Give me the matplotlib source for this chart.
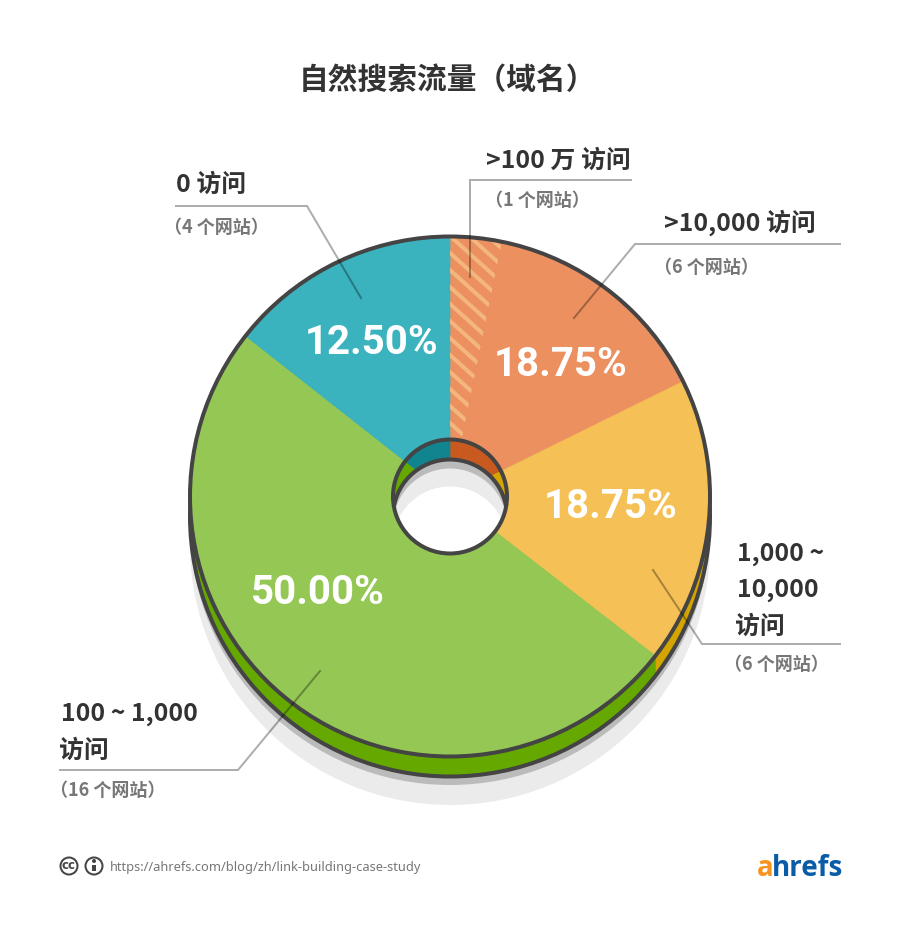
import matplotlib
matplotlib.use('Agg')
from matplotlib import pyplot as plt
from matplotlib.patches import Circle

plt.rcParams['font.family'] = ['Noto Sans CJK SC', 'DejaVu Sans']

W, H = 900, 936
PX = 0.72  # one pixel in points at dpi 100

# slice sizes, clockwise from 12 o'clock
slice_names = ['>100 万', '>10,000', '1,000 ~ 10,000', '100 ~ 1,000', '0']
slice_shares = [3.2, 14.5, 17.8, 50.1, 14.4]
top_colors = ['#ec9060', '#ec9060', '#f5c156', '#95c754', '#3ab3be']
side_colors = ['#c95a1f', '#c95a1f', '#d4a500', '#64a800', '#10848f']

pct_labels = ['12.50%', '18.75%', '18.75%', '50.00%']
pct_x = [372, 561, 611, 318]
pct_y = [342.5, 365.5, 506.5, 593.5]

title = '自然搜索流量（域名）'
heads = ['0 访问', '>100 万 访问', '>10,000 访问', '1,000 ~', '10,000', '访问', '100 ~ 1,000', '访问']
head_x = [176, 486, 664, 737, 737, 735, 61, 59]
head_y = [184.5, 160.5, 223, 554.5, 590.5, 626.5, 714.5, 750.5]
subs = ['（4 个网站）', '（1 个网站）', '（6 个网站）', '（6 个网站）', '（16 个网站）']
sub_x = [164, 485, 654, 724, 50]
sub_y = [227.5, 200.5, 267.5, 664.5, 790.5]

leaders = [
    ([176, 307, 361], [206, 206, 298]),
    ([631, 470, 470], [180, 180, 277]),
    ([840, 635, 574], [244, 244, 318]),
    ([840, 702, 653], [644, 644, 570]),
    ([60, 238, 320], [770, 770, 671]),
]

CX, CY, R = 450, 496.5, 260
DEPTH = 20
HOLE = 57
STROKE = '#444444'


def Y(py):
    return H - py


def draw_pie(ax, cy, colors, z):
    wedges, _ = ax.pie(
        slice_shares, colors=colors, startangle=90, counterclock=False,
        center=(CX, Y(cy)), radius=R,
        wedgeprops={'linewidth': 0.5, 'zorder': z},
    )
    for w in wedges:
        w.set_edgecolor(w.get_facecolor())
    return wedges


def disc(ax, cy, r, z, fc='none', ec='none', lw=0, clip=None):
    c = Circle((CX, Y(cy)), r, fc=fc, ec=ec, lw=lw * PX, zorder=z)
    ax.add_patch(c)
    if clip is not None:
        c.set_clip_path(clip)
    return c


def draw_hatch(ax, wedge):
    # pale diagonal stripes on the one-site wedge
    for start in range(150, 520, 17):
        line, = ax.plot([430, 530], [Y(start), Y(start + 90)], color='#f4b67f',
                        lw=4 * PX, solid_capstyle='butt', zorder=11)
        line.set_clip_path(wedge)


def draw_hole(ax):
    hole = disc(ax, CY, HOLE, 20, fc='white')
    inner_pie = draw_pie(ax, CY, side_colors, 21)
    for w in inner_pie:
        # pie turns clipping off on its wedges
        w.set_clip_on(True)
        w.set_clip_path(hole)
    disc(ax, CY + DEPTH, HOLE, 22, fc='#bbbbbb', clip=hole)
    disc(ax, CY + DEPTH + 9, HOLE, 23, fc='#ebebeb', clip=hole)
    disc(ax, CY + DEPTH + 27, HOLE, 24, fc='white', clip=hole)
    disc(ax, CY + DEPTH, HOLE, 25, ec=STROKE, lw=4, clip=hole)
    disc(ax, CY, HOLE, 26, ec=STROKE, lw=4)


def draw_footer(ax):
    for x in [69, 94]:
        ax.add_patch(Circle((x, Y(866)), 8.5, fc='white', ec=STROKE, lw=2 * PX, zorder=5))
    ax.text(69, Y(865.5), 'cc', fontsize=8.5, fontweight='bold', color=STROKE,
            ha='center', va='center', family=['DejaVu Sans'], zorder=6)
    ax.add_patch(Circle((94, Y(861)), 2, fc=STROKE, ec='none', zorder=6))
    ax.plot([94, 94], [Y(864.5), Y(871)], color=STROKE, lw=4 * PX,
            solid_capstyle='butt', zorder=6)
    ax.text(110, Y(867), 'https://ahrefs.com/blog/zh/link-building-case-study',
            fontsize=9.25, color='#777777', va='center', family=['Noto Sans'])
    ax.text(757, Y(869), 'a', fontsize=20, fontweight='bold', color='#f7931e',
            va='center', family=['Open Sans'])
    ax.text(772, Y(869), 'hrefs', fontsize=20, fontweight='bold', color='#0a5ca8',
            va='center', family=['Open Sans'])


fig = plt.figure(figsize=(W / 100, H / 100), dpi=100)
ax = fig.add_axes([0, 0, 1, 1])

# shadows under the disc
disc(ax, CY + DEPTH + 28.5, R, 1, fc='#ebebeb')
disc(ax, CY + DEPTH + 8.5, R, 2, fc='#bbbbbb')

# side wall: stack of the dark pie between the bottom and the top face
for off in range(DEPTH, 0, -1):
    draw_pie(ax, CY + off, side_colors, 3)
disc(ax, CY + DEPTH, R, 4, ec=STROKE, lw=4)

top = draw_pie(ax, CY, top_colors, 10)
draw_hatch(ax, top[0])
disc(ax, CY, R, 12, ec=STROKE, lw=4)
draw_hole(ax)

for xs, ys in leaders:
    ax.plot(xs, [Y(v) for v in ys], color='black', alpha=0.32, lw=2 * PX,
            solid_joinstyle='miter', zorder=30)

for label, x, y in zip(pct_labels, pct_x, pct_y):
    ax.text(x, Y(y), label, color='white', fontsize=29, fontweight='bold',
            ha='center', va='center', family=['Roboto'], zorder=31)

ax.text(447.5, Y(80), title, fontsize=21.4, fontweight='bold', color='#333333',
        ha='center', va='center')
for label, x, y in zip(heads, head_x, head_y):
    ax.text(x, Y(y), label, fontsize=17.9, fontweight='bold', color='#333333', va='center')
for label, x, y in zip(subs, sub_x, sub_y):
    ax.text(x, Y(y), label, fontsize=13, fontweight='bold', color='#777777', va='center')

draw_footer(ax)

ax.set_xlim(0, W)
ax.set_ylim(0, H)
ax.set_aspect('equal')
ax.axis('off')
fig.savefig('out.png', dpi=100, facecolor='white')
